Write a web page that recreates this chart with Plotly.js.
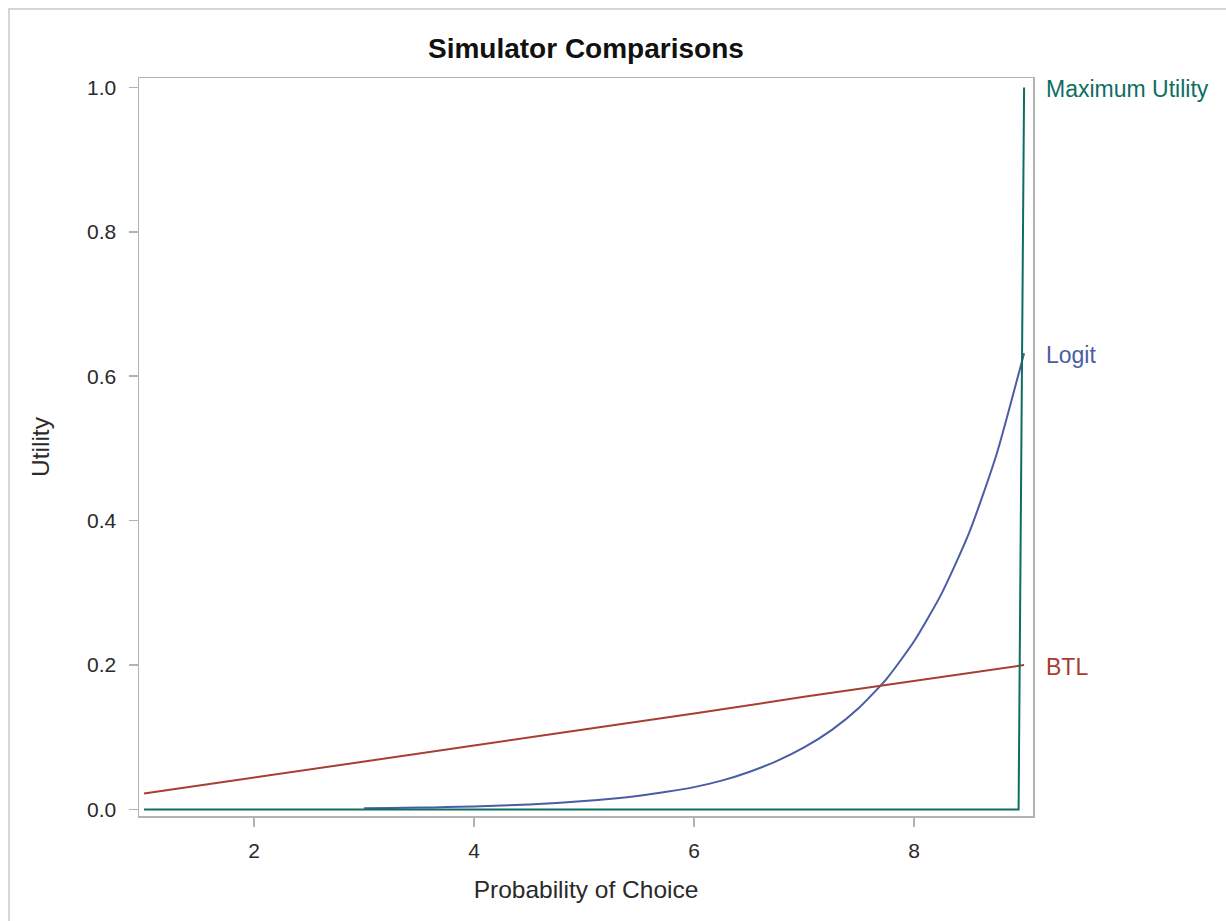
<!DOCTYPE html>
<html>
<head>
<meta charset="utf-8">
<script src="https://cdn.plot.ly/plotly-3.0.1.min.js"></script>
<style>
  html, body { margin: 0; padding: 0; background: #fff; overflow: hidden; }
  #frame { position: absolute; left: 8px; top: 8px; width: 1400px; height: 1100px;
           border-left: 2px solid #d6d6d6; border-top: 2px solid #d6d6d6; pointer-events: none; }
  #chart { position: absolute; left: 0; top: 0; width: 1226px; height: 921px; }
</style>
</head>
<body>
<div id="chart"></div>
<div id="frame"></div>
<script>
// ---- Data ----
const chartTitle = "Simulator Comparisons";
const xTitle = "Probability of Choice";
const yTitle = "Utility";

const seriesNames = ["Logit", "BTL", "Maximum Utility"];

// Logit curve
const logitX = [3, 3.25, 3.5, 3.75, 4, 4.25, 4.5, 4.75, 5, 5.25, 5.5, 5.75, 6,
                6.25, 6.5, 6.75, 7, 7.25, 7.5, 7.75, 8, 8.25, 8.5, 8.75, 9];
const logitY = [0.0016, 0.002, 0.0026, 0.0033, 0.0043, 0.0055, 0.007, 0.009, 0.0116,
                0.0149, 0.019, 0.0245, 0.031, 0.040, 0.052, 0.067, 0.086, 0.110,
                0.141, 0.181, 0.233, 0.299, 0.383, 0.492, 0.632];

// BTL line
const btlX = [1, 2, 3, 4, 5, 6, 7, 8, 9];
const btlY = [0.022, 0.044, 0.067, 0.089, 0.111, 0.133, 0.156, 0.178, 0.200];

// Maximum utility
const maxX = [1, 8.95, 9];
const maxY = [0, 0, 1];

const xTicks = [2, 4, 6, 8];
const yTicks = [0, 0.2, 0.4, 0.6, 0.8, 1.0];

const colors = { "Logit": "#4a5da4", "BTL": "#a83d31", "Maximum Utility": "#0e6e62" };

const seriesData = {
  "Logit": [logitX, logitY],
  "BTL": [btlX, btlY],
  "Maximum Utility": [maxX, maxY]
};

const traces = seriesNames.map(name => ({
  type: "scatter",
  mode: "lines",
  name: name,
  x: seriesData[name][0],
  y: seriesData[name][1],
  line: { color: colors[name], width: 2, shape: name === "Logit" ? "spline" : "linear", smoothing: 0.6 },
  hoverinfo: "skip",
  showlegend: false
}));

const plotL = 138.5, plotR = 1033.3, plotT = 78, plotB = 815.7;
const W = 1226, H = 921;
const FONT = "Liberation Sans, Arial, sans-serif";

const annotations = seriesNames.map(name => {
  const ys = seriesData[name][1];
  return {
    xref: "paper", yref: "y",
    x: 1.0125, y: ys[ys.length - 1], yshift: -2,
    xanchor: "left", yanchor: "middle",
    text: name, showarrow: false,
    font: { family: FONT, size: 23, color: colors[name] }
  };
});

const axisCommon = {
  showline: true, mirror: true, linecolor: "#b3b3b3", linewidth: 1.5,
  ticks: "outside", ticklen: 9, tickcolor: "#b3b3b3", tickwidth: 1.5,
  showgrid: false, zeroline: false,
  tickfont: { family: FONT, size: 21, color: "#2a2a2a" }
};

const layout = {
  width: W, height: H,
  paper_bgcolor: "#fff", plot_bgcolor: "#fff",
  margin: { l: plotL, r: W - plotR, t: plotT, b: H - plotB, pad: 0 },
  title: {
    text: "<b>" + chartTitle + "</b>",
    x: (plotL + plotR) / 2 / W, xanchor: "center",
    y: 1 - 48 / H, yanchor: "middle",
    font: { family: FONT, size: 28, color: "#111" }
  },
  xaxis: Object.assign({}, axisCommon, {
    range: [0.954, 9.081],
    tickvals: xTicks, ticktext: xTicks.map(String),
    ticklabelstandoff: 6,
    title: { text: xTitle, standoff: 20,
             font: { family: FONT, size: 24.5, color: "#2a2a2a" } }
  }),
  yaxis: Object.assign({}, axisCommon, {
    range: [-0.009, 1.013],
    tickvals: yTicks, ticktext: yTicks.map(v => v.toFixed(1)),
    ticklabelstandoff: 8,
    title: { text: yTitle, standoff: 30,
             font: { family: FONT, size: 24.5, color: "#2a2a2a" } }
  }),
  annotations: annotations,
  showlegend: false
};

Plotly.newPlot("chart", traces, layout, { staticPlot: true, displayModeBar: false });
</script>
</body>
</html>
